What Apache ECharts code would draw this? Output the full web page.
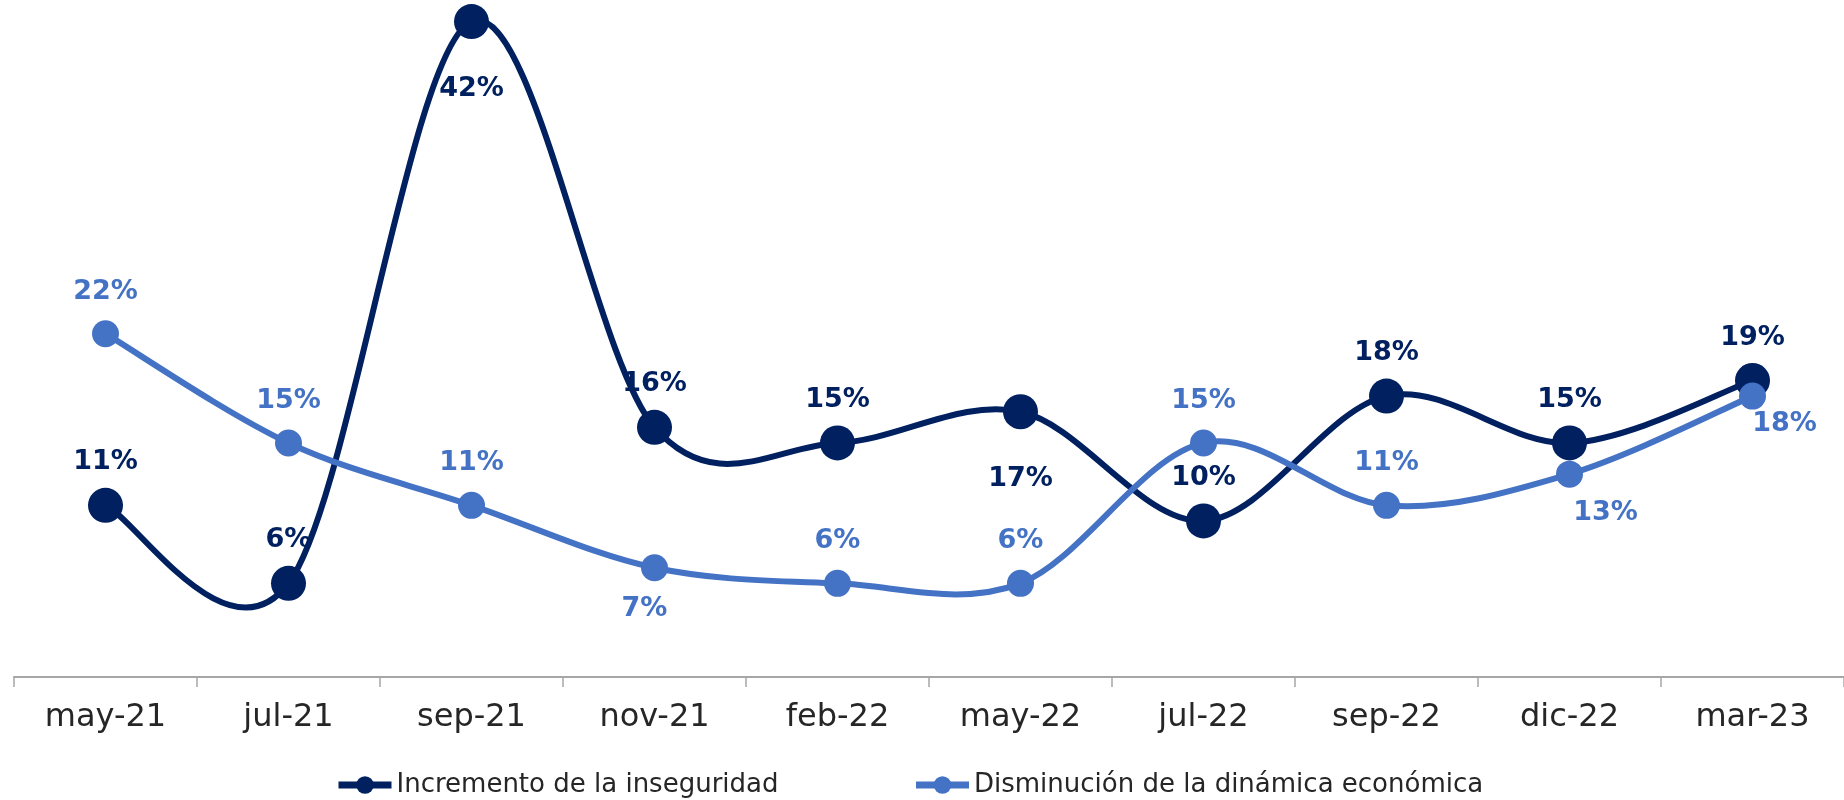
<!DOCTYPE html>
<html>
<head>
<meta charset="utf-8">
<script src="https://cdn.jsdelivr.net/npm/echarts@6/dist/echarts.min.js"></script>
<style>
  html, body { margin: 0; padding: 0; background: #fff; }
  #chart { width: 1844px; height: 800px; }
</style>
</head>
<body>
<div id="chart"></div>
<script>
var meses = ['may-21', 'jul-21', 'sep-21', 'nov-21', 'feb-22', 'may-22', 'jul-22', 'sep-22', 'dic-22', 'mar-23'];
var inseguridad = [11, 6, 42, 16, 15, 17, 10, 18, 15, 19];
var dinamica = [22, 15, 11, 7, 6, 6, 15, 11, 13, 18];

var fuente = 'DejaVu Sans';
var azulOscuro = '#002060';
var azulClaro = '#4472C4';

// posicion de etiquetas (como en el original)
var posOscuro = ['top', 'top', 'bottom', 'top', 'top', 'bottom', 'top', 'top', 'top', 'top'];
var posClaro = ['top', 'top', 'top', 'bottom', 'top', 'top', 'top', 'top', 'bottom', 'bottom'];
var offClaro = [null, null, null, [-10, 0], null, null, null, null, [36, -2], [32, -13]];

function puntos(vals, pos, offs, distTop, distBottom) {
  return vals.map(function (v, i) {
    var lab = { position: pos[i], distance: pos[i] == 'top' ? distTop : distBottom };
    if (offs && offs[i]) lab.offset = offs[i];
    return { value: v, label: lab };
  });
}

// curva suavizada tipo Excel (Catmull-Rom), sobre las coordenadas del eje
function curva(vals, color) {
  return function (params, api) {
    if (params.dataIndex !== 0) return;
    var p = vals.map(function (v, i) { return api.coord([i, v]); });
    var n = p.length, hijos = [];
    for (var i = 0; i < n - 1; i++) {
      var a = p[i > 0 ? i - 1 : i], b = p[i], c = p[i + 1], d = p[i + 2 < n ? i + 2 : i + 1];
      hijos.push({
        type: 'bezierCurve',
        shape: {
          x1: b[0], y1: b[1], x2: c[0], y2: c[1],
          cpx1: b[0] + (c[0] - a[0]) / 6, cpy1: b[1] + (c[1] - a[1]) / 6,
          cpx2: c[0] - (d[0] - b[0]) / 6, cpy2: c[1] - (d[1] - b[1]) / 6
        },
        style: { stroke: color, lineWidth: 6, fill: 'none', lineCap: 'round' }
      });
    }
    return { type: 'group', children: hijos };
  };
}

var chart = echarts.init(document.getElementById('chart'));
var option = {
  animation: false,
  grid: { left: 14, right: -8, top: 6, bottom: 123 },
  legend: {
    top: 767,
    left: 330,
    itemWidth: 53,
    itemHeight: 22,
    itemGap: 134,
    lineStyle: { opacity: 1, width: 7 },
    textStyle: { fontFamily: fuente, fontSize: 26, color: '#262626' },
    data: ['Incremento de la inseguridad', 'Disminución de la dinámica económica']
  },
  xAxis: {
    type: 'category',
    data: meses,
    boundaryGap: true,
    axisLine: { lineStyle: { color: '#a6a6a6', width: 2 } },
    axisTick: { show: true, length: 10, lineStyle: { color: '#a6a6a6', width: 1.5 } },
    axisLabel: { fontFamily: fuente, fontSize: 32, color: '#262626', margin: 25 }
  },
  yAxis: {
    type: 'value',
    min: 0,
    max: 43,
    show: false,
    splitLine: { show: false }
  },
  series: [
    {
      name: 'Incremento de la inseguridad',
      type: 'line',
      data: puntos(inseguridad, posOscuro, null, 12, 36),
      symbol: 'circle',
      symbolSize: 35,
      lineStyle: { color: azulOscuro, width: 6, opacity: 0 },
      itemStyle: { color: azulOscuro },
      z: 3,
      label: {
        show: true,
        formatter: '{c}%',
        fontFamily: fuente,
        fontWeight: 'bold',
        fontSize: 27,
        color: azulOscuro
      }
    },
    {
      name: 'Disminución de la dinámica económica',
      type: 'line',
      data: puntos(dinamica, posClaro, offClaro, 15, 14),
      symbol: 'circle',
      symbolSize: 27,
      lineStyle: { color: azulClaro, width: 6, opacity: 0 },
      itemStyle: { color: azulClaro },
      z: 4,
      label: {
        show: true,
        formatter: '{c}%',
        fontFamily: fuente,
        fontWeight: 'bold',
        fontSize: 27,
        color: azulClaro
      }
    },
    {
      name: 'Incremento de la inseguridad',
      type: 'custom',
      coordinateSystem: 'cartesian2d',
      encode: { x: 0, y: 1 },
      data: inseguridad.map(function (v, i) { return [i, v]; }),
      renderItem: curva(inseguridad, azulOscuro),
      silent: true,
      z: 1
    },
    {
      name: 'Disminución de la dinámica económica',
      type: 'custom',
      coordinateSystem: 'cartesian2d',
      encode: { x: 0, y: 1 },
      data: dinamica.map(function (v, i) { return [i, v]; }),
      renderItem: curva(dinamica, azulClaro),
      silent: true,
      z: 2
    }
  ]
};
chart.setOption(option);
</script>
</body>
</html>
